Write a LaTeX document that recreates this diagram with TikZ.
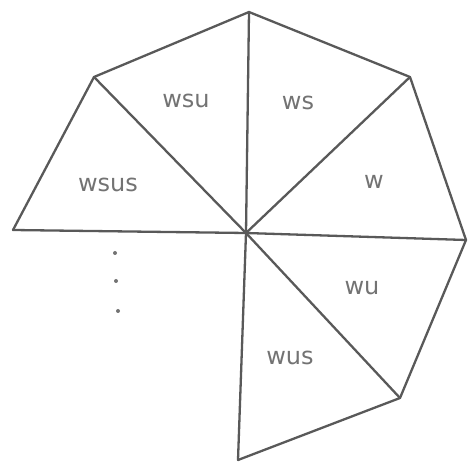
\documentclass[tikz,border=0pt]{standalone}
\usepackage{fontspec}
\setmainfont{DejaVu Sans}
\begin{document}
\begin{tikzpicture}[x=1pt,y=-1pt,
  edge/.style={draw=black!65, line width=2.3pt, line join=round, line cap=round},
  lbl/.style={text=black!55, font=\fontsize{24}{28}\selectfont},
  dotmark/.style={circle, fill=black!55, inner sep=0pt, minimum size=4pt}]
\useasboundingbox (0,0) rectangle (469,465);
\coordinate (C) at (246,233);
\coordinate (T) at (249,12);
\coordinate (UR) at (410,77);
\coordinate (R) at (466,240);
\coordinate (LR) at (400,398);
\coordinate (B) at (238,460);
\coordinate (UL) at (94,77);
\coordinate (L) at (13,230);
\draw[edge] (L) -- (UL) -- (T) -- (UR) -- (R) -- (LR) -- (B);
\draw[edge] (C) -- (L);
\draw[edge] (C) -- (UL);
\draw[edge] (C) -- (T);
\draw[edge] (C) -- (UR);
\draw[edge] (C) -- (R);
\draw[edge] (C) -- (LR);
\draw[edge] (C) -- (B);
\node[lbl] (wsu) at (186,101) {wsu};
\node[lbl] (ws) at (298,103) {ws};
\node[lbl] (wsus) at (108,185) {wsus};
\node[lbl] (w) at (374,182) {w};
\node[lbl] (wu) at (362,288) {wu};
\node[lbl] (wus) at (290,358) {wus};
\node[dotmark] (d1) at (115,253) {};
\node[dotmark] (d2) at (116,281) {};
\node[dotmark] (d3) at (118,311) {};
\end{tikzpicture}
\end{document}
